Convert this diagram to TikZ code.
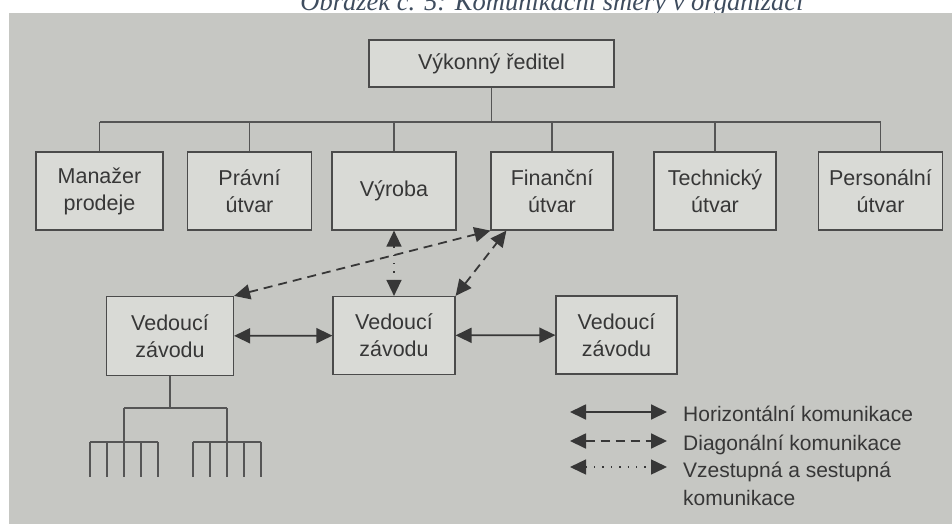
\documentclass[tikz,border=0pt]{standalone}
\usepackage{fontspec}
\setmainfont{Liberation Sans}
\newfontfamily\capfont{Liberation Serif}
\usetikzlibrary{arrows.meta}
\definecolor{paper}{RGB}{198,199,195}
\definecolor{boxfill}{RGB}{217,218,214}
\definecolor{ink}{RGB}{55,55,55}
\definecolor{capink}{RGB}{62,76,94}
\tikzset{
  bigtri/.tip={Triangle[length=16pt,width=15pt]},
  unit/.style={draw=ink!90, fill=boxfill, line width=1.2pt, align=center, inner sep=0pt,
    minimum width=124pt, minimum height=78pt, text=ink, font=\fontsize{21.5}{27}\selectfont},
  link/.style={draw=ink!85, line width=1.3pt},
  horiz/.style={draw=ink, line width=1.8pt, bigtri-bigtri},
  diag/.style={horiz, dash pattern=on 9pt off 6pt},
  updown/.style={horiz, line width=1.4pt, dash pattern=on 1.4pt off 7pt},
  legend/.style={anchor=base west, inner sep=0pt, text=ink, align=left,
    font=\fontsize{21}{28}\selectfont}
}
\begin{document}
\begin{tikzpicture}[x=1pt, y=-1pt]
    \useasboundingbox (0,0) rectangle (952,524);
    \clip (0,0) rectangle (952,524);
    \fill[white] (0,0) rectangle (952,524);
    \node[anchor=base, inner sep=0pt, text=capink, font=\capfont\itshape\fontsize{26.5}{26.5}\selectfont]
        (caption) at (552,11) {Obrázek č. 5: Komunikační směry v organizaci};
    \fill[paper] (9,13) rectangle (952,524);
    % top of the organisation
    \node[unit, minimum width=245pt, minimum height=47pt] (vr) at (491.5,63.5) {Výkonný ředitel};
    \node[unit, minimum width=127pt] (man) at (99.5,191) {Manažer\\prodeje};
    \node[unit] (prav) at (249.5,191) {Právní\\útvar};
    \node[unit] (vyr) at (394,191) {Výroba};
    \node[unit, minimum width=122pt] (fin) at (552,191) {Finanční\\útvar};
    \node[unit, minimum width=122pt] (tech) at (715,191) {Technický\\útvar};
    \node[unit] (pers) at (880.5,191) {Personální\\útvar};
    \coordinate (busL) at (99.5,122);
    \coordinate (busR) at (880.5,122);
    \draw[link] (busL) -- (busR);
    \draw[link] (vr.south) -- (vr.south |- busL);
    \foreach \n in {man,prav,vyr,fin,tech,pers}
        \draw[link] (\n.north) -- (\n.north |- busL);
    % plants
    \node[unit, minimum width=127pt, minimum height=79pt] (ved1) at (170,336) {Vedoucí\\závodu};
    \node[unit, minimum width=122pt] (ved2) at (394,335.5) {Vedoucí\\závodu};
    \node[unit, minimum width=121pt] (ved3) at (616.5,335) {Vedoucí\\závodu};
    \draw[horiz] (ved1) -- (ved2);
    \draw[horiz] (ved2) -- (ved3);
    \draw[updown] (vyr.south) -- (ved2.north);
    \draw[diag] (ved1.north east) -- (fin.south west);
    \draw[diag] (ved2.north east) -- ([xshift=16pt]fin.south west);
    % lower levels
    \coordinate (barL) at (124,408);
    \coordinate (barR) at (227,408);
    \draw[link] (ved1.south) -- (ved1.south |- barL);
    \draw[link] (barL) -- (barR);
    \foreach \c in {90,193}{
        \draw[link] (\c,442) -- (\c+68,442);
        \draw[link] (\c+34,408) -- (\c+34,442);
        \foreach \k in {0,...,4}
            \draw[link] (\c+17*\k,442) -- (\c+17*\k,477);
    }
    % legend
    \foreach \s/\y/\n in {horiz/412/h, diag/441/d, updown/467/u}{
        \coordinate (lg\n a) at (570,\y);
        \coordinate (lg\n b) at (667,\y);
        \draw[\s] (lg\n a) -- (lg\n b);
    }
    \node[legend] (lgh) at (683,421.5) {Horizontální komunikace};
    \node[legend] (lgd) at (683,450) {Diagonální komunikace};
    \node[legend] (lgu) at (683,505) {Vzestupná a sestupná\\komunikace};
\end{tikzpicture}
\end{document}
